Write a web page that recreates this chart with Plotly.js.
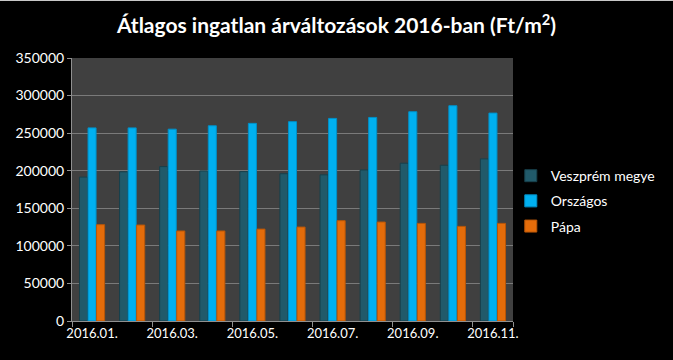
<!DOCTYPE html>
<html>
<head>
<meta charset="utf-8">
<script src="https://cdn.plot.ly/plotly-3.0.1.min.js"></script>
<style>
  html, body { margin:0; padding:0; background:#000; }
  #chart { width:673px; height:360px; box-sizing:border-box; border-top:1px solid #c8c8c8; }
</style>
</head>
<body>
<div id="chart"></div>
<script>
const months = ["2016.01.","2016.02.","2016.03.","2016.04.","2016.05.","2016.06.","2016.07.","2016.08.","2016.09.","2016.10.","2016.11."];
const tickLabels = ["2016.01.","2016.03.","2016.05.","2016.07.","2016.09.","2016.11."];
const veszprem = [191500, 198500, 205500, 199700, 198800, 196000, 194500, 201000, 210000, 207300, 215700];
const orszagos = [257000, 257000, 255300, 259800, 263000, 265300, 269600, 270900, 278500, 286500, 276700];
const papa     = [128200, 127700, 119800, 119800, 122300, 125000, 133500, 131700, 129900, 125900, 129900];

const fam = "Lato, 'Open Sans', sans-serif";

const traces = [
  {type:"bar", name:"Veszprém megye", legendgroup:"a", x:months, y:veszprem,
   marker:{color:"#215a6a", line:{color:"#17404c", width:1}}},
  {type:"bar", name:"Országos", legendgroup:"b", x:months, y:orszagos,
   marker:{color:"#00b0f0", line:{color:"#0090c8", width:1}}},
  {type:"bar", name:"Pápa", legendgroup:"c", x:months, y:papa,
   marker:{color:"#e46c0a", line:{color:"#b85608", width:1}}}
];

const layout = {
  width:673, height:359,
  paper_bgcolor:"#000000",
  plot_bgcolor:"#404040",
  margin:{l:72, r:160, t:57, b:39, pad:0, autoexpand:false},
  title:{text:"<b>Átlagos ingatlan árváltozások 2016-ban (Ft/m<sup>2</sup>)</b>",
         x:0.5, xanchor:"center", y:0.93, yanchor:"middle",
         font:{family:fam, color:"#ffffff", size:21}},
  barmode:"group",
  bargap:0.36,
  bargroupgap:0.06,
  showlegend:true,
  legend:{x:0.995, xanchor:"left", y:0.456, yanchor:"middle",
          font:{family:fam, color:"#ffffff", size:14},
          bgcolor:"rgba(0,0,0,0)", traceorder:"grouped", tracegroupgap:4, itemwidth:30},
  xaxis:{type:"category", tickmode:"array", tickvals:tickLabels, ticktext:tickLabels,
         tickangle:0, automargin:false,
         tickson:"boundaries", ticks:"outside", ticklen:5, tickcolor:"#909090",
         showline:true, linecolor:"#909090", linewidth:1, showgrid:false,
         tickfont:{family:fam, color:"#ffffff", size:13}, fixedrange:true},
  yaxis:{range:[0,350000], dtick:50000, tickformat:"d", automargin:false,
         ticks:"outside", ticklen:4, tickcolor:"#909090",
         showline:true, linecolor:"#909090", linewidth:1,
         gridcolor:"#7a7a7a", gridwidth:1, zeroline:false,
         tickfont:{family:fam, color:"#ffffff", size:14}, fixedrange:true}
};

Plotly.newPlot("chart", traces, layout, {displayModeBar:false, staticPlot:true});
</script>
</body>
</html>
